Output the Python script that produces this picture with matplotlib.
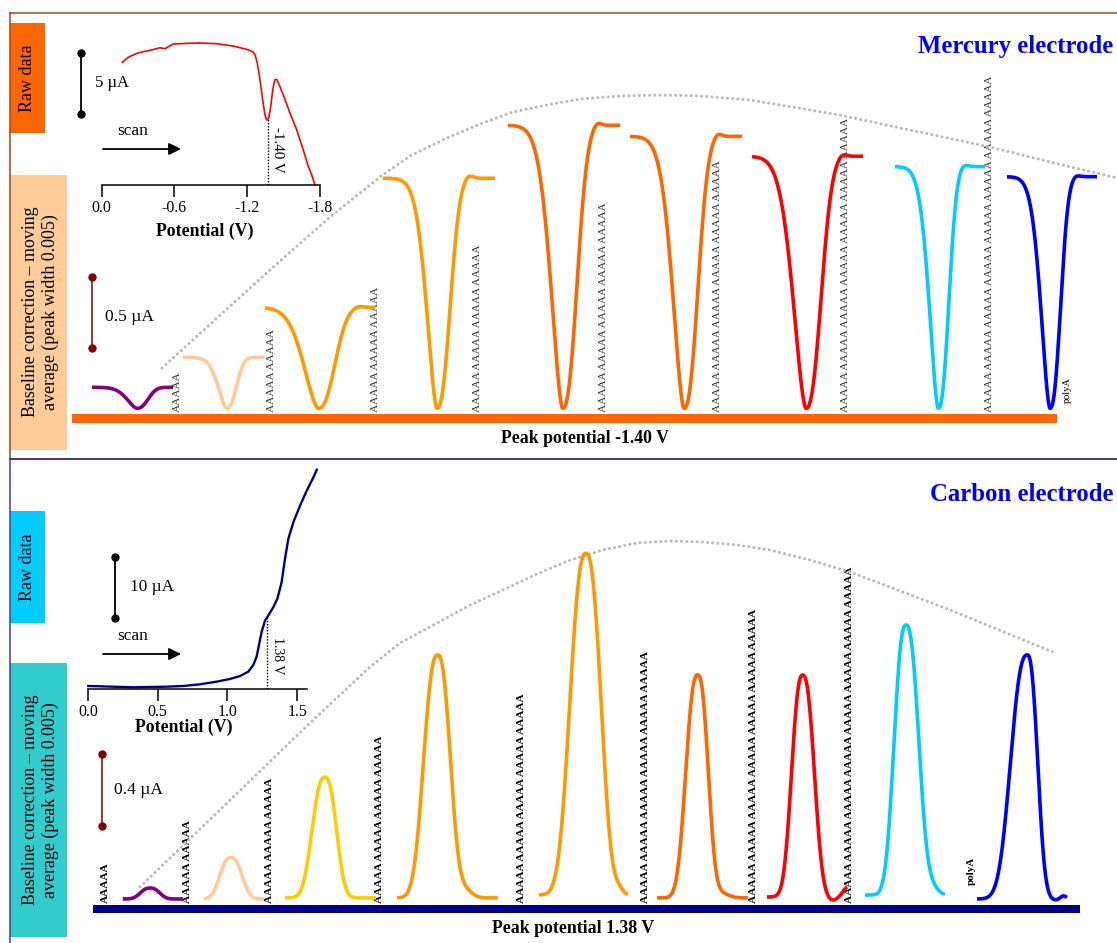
import numpy as np
import matplotlib
matplotlib.use("Agg")
import matplotlib.pyplot as plt
from matplotlib.patches import Rectangle

plt.rcParams['font.family'] = ['Liberation Serif', 'DejaVu Serif']

W, H = 1117, 943

# ---------------- data ----------------
# Mercury electrode raw scan (V, µA)
hg_potential = [-0.172, -0.221, -0.291, -0.345, -0.415, -0.483, -0.524, -0.552, -0.593, -0.704,
                -0.813, -0.951, -1.088, -1.199, -1.249, -1.268, -1.287, -1.309, -1.331, -1.350,
                -1.364, -1.381, -1.397, -1.414, -1.430, -1.447, -1.468, -1.501, -1.557, -1.612,
                -1.666, -1.708, -1.736, -1.763]
hg_current = [10.06, 10.47, 10.79, 10.93, 11.07, 11.25, 11.17, 11.34, 11.56, 11.61,
              11.64, 11.58, 11.39, 11.12, 10.93, 10.66, 9.98, 8.61, 6.97, 5.74,
              5.33, 5.47, 6.42, 7.79, 8.61, 8.66, 8.20, 7.38, 5.88, 4.52,
              2.88, 1.52, 0.82, 0.0]
hg_ticks = [0.0, -0.6, -1.2, -1.8]
hg_tick_labels = ['0.0', '-0.6', '-1.2', '-1.8']
hg_marker_v = -1.375
hg_marker_label = '-1.40 V'
hg_raw_bar = 5.0          # µA
hg_peak_bar = 0.5         # µA

# Carbon electrode raw scan (V, µA)
c_potential = [0.002, 0.086, 0.325, 0.564, 0.683, 0.803, 0.922, 1.018, 1.090, 1.149,
               1.185, 1.209, 1.228, 1.245, 1.269, 1.292, 1.328, 1.357, 1.388, 1.412,
               1.436, 1.472, 1.520, 1.568, 1.616, 1.640]
c_current = [0.49, 0.44, 0.28, 0.38, 0.49, 0.77, 1.20, 1.64, 2.13, 2.84,
             3.93, 5.30, 7.49, 9.39, 11.20, 12.02, 13.39, 14.75, 17.49, 21.31,
             24.59, 27.33, 30.05, 32.51, 34.70, 35.95]
c_ticks = [0.0, 0.5, 1.0, 1.5]
c_tick_labels = ['0.0', '0.5', '1.0', '1.5']
c_marker_v = 1.283
c_marker_label = '1.38 V'
c_raw_bar = 10.0          # µA
c_peak_bar = 0.4          # µA

# Baseline-corrected peaks, mercury (reduction dips, µA)
hg_colors = ['#800080', '#ffcc99', '#ff9900', '#ff9900', '#ff6600', '#ff6600',
             '#ff0000', '#00ccff', '#0000ff']
hg_depth = [0.148, 0.359, 0.711, 1.62, 1.993, 1.915, 1.775, 1.702, 1.631]
hg_center = [137, 226.7, 318.3, 437, 562.7, 684, 806, 938.3, 1050]
hg_wl = [14, 12.2, 20.5, 14.5, 16.5, 16, 18, 12.8, 12.8]
hg_wr = [14, 12.5, 21, 16.5, 18, 17.5, 19, 13.3, 13.3]
hg_over = [0, 0, 0.01, 0.025, 0.025, 0.025, 0.02, 0.015, 0.012]
hg_start = [92, 183, 265, 383, 508, 630, 752, 895, 1007]
hg_end = [173, 264, 375, 495, 620, 742, 863, 985, 1097]

# Baseline-corrected peaks, carbon (oxidation peaks, µA)
c_colors = ['#800080', '#ffcc99', '#ffcc00', '#ff9900', '#ff9900', '#ff6600',
            '#ff0000', '#00ccff', '#0000ff']
c_height = [0.061, 0.231, 0.671, 1.35, 1.898, 1.239, 1.233, 1.50, 1.356]
c_base = [0, 0, 0.006, 0.006, 0.022, 0.006, 0.011, 0.022, 0]
c_center = [150, 231, 325, 437.7, 586, 697.7, 802.7, 906, 1027.3]
c_wl = [12, 14, 16.2, 17.7, 20.2, 15, 13.9, 15, 21]
c_wr = [12, 14, 14.5, 16, 18.9, 13.3, 14.6, 16.2, 13]
c_start = [122.7, 204, 285, 397, 539, 657, 767, 865, 977]
c_end = [183, 264, 376, 498, 628, 748, 847, 945, 1067]
c_extra = [[], [], [], [(0.045, 27, 7)], [(0.028, 33, 4)], [(0.025, 24, 7)],
           [(-0.02, 29, 5), (0.06, 46, 5)], [(0.04, 26, 6)],
           [(-0.006, 28, 4), (0.018, 36, 3)]]

# Dotted trend of peak currents (position, µA)
hg_trend_x = [162, 270, 330, 380, 410, 447, 480, 513, 547, 580, 620, 657, 690, 713, 750,
              780, 810, 840, 900, 990, 1050, 1117]
hg_trend_y = [0.284, 0.974, 1.347, 1.629, 1.777, 1.904, 2.002, 2.087, 2.136, 2.178, 2.199,
              2.206, 2.203, 2.192, 2.171, 2.136, 2.101, 2.065, 1.974, 1.840, 1.735, 1.622]
c_trend_x = [140, 313, 370, 400, 437, 470, 503, 537, 570, 603, 637, 670, 703, 737, 770,
             810, 850, 950, 1053]
c_trend_y = [0.067, 0.994, 1.289, 1.422, 1.533, 1.633, 1.717, 1.806, 1.883, 1.939, 1.978,
             1.989, 1.983, 1.967, 1.939, 1.883, 1.817, 1.606, 1.372]

# Sequence labels (number of "AAAAA" groups)
hg_seq_x = [177, 271, 375, 478, 604, 718, 845, 989]
hg_seq_n = [1, 2, 3, 4, 5, 6, 7, 8]
c_seq_x = [105, 188, 270, 380, 522, 645, 754, 849]
c_seq_n = [1, 2, 3, 4, 5, 6, 7, 8]

# ---------------- figure ----------------
fig = plt.figure(figsize=(W / 100, H / 100), dpi=100)


def px_axes(x0, x1, y_top, y_bot):
    a = fig.add_axes([x0 / W, 1 - y_bot / H, (x1 - x0) / W, (y_bot - y_top) / H])
    a.set_facecolor('none')
    return a


bg = fig.add_axes([0, 0, 1, 1])
bg.set_xlim(0, W)
bg.set_ylim(H, 0)
bg.axis('off')

# label boxes
bg.add_patch(Rectangle((10, 23), 35, 110, fc='#ff6600', ec='none'))
bg.add_patch(Rectangle((10, 175), 57, 275, fc='#ffcc99', ec='none'))
bg.add_patch(Rectangle((10, 511), 35, 112, fc='#00ccff', ec='none'))
bg.add_patch(Rectangle((10, 663), 57, 274, fc='#33cccc', ec='none'))
bl_text = 'Baseline correction \u2013 moving\naverage (peak width 0.005)'
bg.text(27.5, 78, 'Raw data', rotation=90, ha='center', va='center', fontsize=13)
bg.text(27.5, 567, 'Raw data', rotation=90, ha='center', va='center', fontsize=13)
bg.text(40.5, 312, bl_text, rotation=90, ha='center', va='center', fontsize=12.9,
        multialignment='center', linespacing=1.2)
bg.text(40.5, 800, bl_text, rotation=90, ha='center', va='center', fontsize=12.9,
        multialignment='center', linespacing=1.2)

# borders
bg.plot([10, W], [12.5, 12.5], color='#a3451c', lw=1.1, zorder=5)
bg.plot([10, 10], [12.5, 459], color='#a3451c', lw=1.1, zorder=5)
bg.plot([10, W], [459, 459], color='#33246e', lw=1.3, zorder=5)
bg.plot([10, 10], [459, H], color='#3a3aa8', lw=1.1, zorder=5)

# titles
bg.text(1113, 53, 'Mercury electrode', ha='right', va='baseline', fontsize=17.8,
        fontweight='bold', color='#0000ff')
bg.text(1113, 501, 'Carbon electrode', ha='right', va='baseline', fontsize=17.8,
        fontweight='bold', color='#0000ff')

# potential bars
bg.add_patch(Rectangle((72, 414), 985, 8.5, fc='#ff6600', ec='none'))
bg.add_patch(Rectangle((93, 905), 987, 8, fc='#000080', ec='none'))
bg.text(585, 443, 'Peak potential ' + hg_marker_label, ha='center', va='baseline',
        fontsize=12.8, fontweight='bold')
bg.text(573, 933, 'Peak potential ' + c_marker_label, ha='center', va='baseline',
        fontsize=12.8, fontweight='bold')

# scan arrows
for yy, ty in [(149, 131), (654, 636)]:
    bg.text(133, ty, 'scan', ha='center', va='center', fontsize=12.5)
    bg.annotate('', xy=(181, yy), xytext=(103, yy),
                arrowprops=dict(arrowstyle='-|>', color='black', lw=1.3,
                                mutation_scale=18, shrinkA=0, shrinkB=0))

# sequence labels
for x, n in zip(hg_seq_x, hg_seq_n):
    bg.text(x, 412, ' '.join(['AAAAA'] * n), rotation=90, ha='center', va='bottom',
            fontsize=8.15, color='#333333')
for x, n in zip(c_seq_x, c_seq_n):
    bg.text(x, 903, ' '.join(['AAAAA'] * n), rotation=90, ha='center', va='bottom',
            fontsize=8.15, color='black', fontweight='bold')
bg.text(1067, 390, 'polyA', rotation=90, ha='center', va='center', fontsize=7.5)
bg.text(971, 871, 'polyA', rotation=90, ha='center', va='center', fontsize=7.9,
        fontweight='bold')


def style_raw(a, ticks, labels):
    for s in ['left', 'right', 'top']:
        a.spines[s].set_visible(False)
    a.spines['bottom'].set_linewidth(1.1)
    a.set_yticks([])
    a.set_xticks(ticks)
    a.set_xticklabels(labels)
    a.tick_params(axis='x', direction='out', length=8.5, width=1.1, labelsize=11.5, pad=2)
    a.set_xlabel('Potential (V)', fontsize=12.8, fontweight='bold')


# ---- mercury raw inset ----
ra = px_axes(101.5, 319.5, 35, 185)
ra.set_xlim(0, -1.8)
ra.set_ylim(0, 150 / 12.2)
style_raw(ra, hg_ticks, hg_tick_labels)
ra.xaxis.set_label_coords(0.475, -0.25)
ra.plot(hg_potential, hg_current, color='#ff0000', lw=1.2, clip_on=False)
mi = np.interp(hg_marker_v, hg_potential[::-1], hg_current[::-1])
ra.plot([hg_marker_v, hg_marker_v], [0, mi], color='black', lw=1, ls=(0, (1, 1.2)))
ra.text(-1.457, 2.87, hg_marker_label, rotation=270, ha='center', va='center', fontsize=10.9)
ra.plot([0.171, 0.171], [5.82, 5.82 + hg_raw_bar], color='black', lw=1.3,
        marker='o', markersize=5, clip_on=False)
ra.text(0.054, 5.82 + hg_raw_bar / 2, '%g \u00b5A' % hg_raw_bar, ha='left', va='center',
        fontsize=12)

# ---- carbon raw inset ----
rb = px_axes(88, 307, 460, 689)
rb.set_xlim(0, 1.57)
rb.set_ylim(0, 229 / 6.1)
style_raw(rb, c_ticks, c_tick_labels)
rb.xaxis.set_label_coords(0.438, -0.13)
rb.plot(c_potential, c_current, color='#000080', lw=1.7, clip_on=False)
ci = np.interp(c_marker_v, c_potential, c_current)
rb.plot([c_marker_v, c_marker_v], [0, ci], color='black', lw=1, ls=(0, (1, 1.2)))
rb.text(1.362, 5.4, c_marker_label, rotation=270, ha='center', va='center', fontsize=10)
rb.plot([0.194, 0.194], [11.64, 11.64 + c_raw_bar], color='black', lw=1.3,
        marker='o', markersize=5, clip_on=False)
rb.text(0.301, 11.64 + c_raw_bar / 2, '%g \u00b5A' % c_raw_bar, ha='left', va='center',
        fontsize=12.4)

DOTS = dict(color='#bbbbbb', lw=2.2, ls=(0, (0.05, 1.65)), dash_capstyle='round',
            clip_on=False)

# ---- mercury baseline-corrected dips ----
pa = px_axes(0, W, 60, 440)
pa.set_xlim(0, W)
pa.set_ylim((408.3 - 440) / 142, (408.3 - 60) / 142)
pa.axis('off')
pa.plot(hg_trend_x, hg_trend_y, **DOTS)
for col, dep, cen, wl, wr, ov, x0, x1 in zip(hg_colors, hg_depth, hg_center, hg_wl, hg_wr,
                                            hg_over, hg_start, hg_end):
    x = np.linspace(x0, x1, 500)
    d = x - cen
    shape = np.where(d < 0, np.exp(-(np.abs(d) / wl) ** 1.7), np.exp(-(np.abs(d) / wr) ** 2.4))
    y = dep * (1 - shape) + ov * np.exp(-0.5 * ((d - 1.9 * wr) / 4.0) ** 2)
    pa.plot(x, y, color=col, lw=2.6, solid_capstyle='butt')
pa.plot([92, 92], [0.423, 0.423 + hg_peak_bar], color='#800000', lw=1.1, marker='o',
        markersize=5)
pa.text(105, 0.423 + hg_peak_bar / 2 - 0.03, '%g \u00b5A' % hg_peak_bar, ha='left',
        va='center', fontsize=12.6)

# ---- carbon baseline-corrected peaks ----
pb = px_axes(0, W, 500, 930)
pb.set_xlim(0, W)
pb.set_ylim((899 - 930) / 180, (899 - 500) / 180)
pb.axis('off')
pb.plot(c_trend_x, c_trend_y, **DOTS)
for col, h, b, cen, wl, wr, x0, x1, ex in zip(c_colors, c_height, c_base, c_center, c_wl,
                                             c_wr, c_start, c_end, c_extra):
    x = np.linspace(x0, x1, 500)
    d = x - cen
    s = np.where(d < 0, wl, wr)
    y = b + h * np.exp(-(np.abs(d) / s) ** 2.5)
    for amp, off, w in ex:
        y = y + amp * np.exp(-0.5 * ((d - off) / w) ** 2)
    pb.plot(x, y, color=col, lw=2.6, solid_capstyle='butt')
pb.plot([102, 102], [0.406, 0.406 + c_peak_bar], color='#800000', lw=1.1, marker='o',
        markersize=5)
pb.text(114, 0.406 + c_peak_bar / 2, '%g \u00b5A' % c_peak_bar, ha='left',
        va='center', fontsize=12.6)

fig.savefig('out.png', dpi=100)
